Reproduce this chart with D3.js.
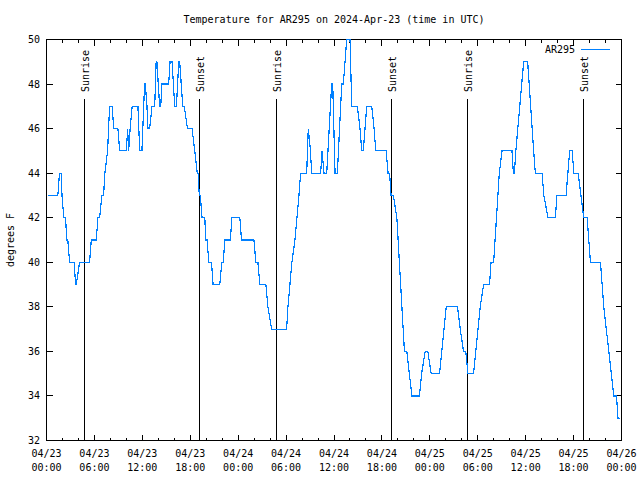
<!DOCTYPE html>
<html><head><meta charset="utf-8">
<script src="https://cdn.jsdelivr.net/npm/d3@7"></script>
<style>
body{margin:0;background:#fff}
svg{display:block}
text{font-family:"DejaVu Sans Mono","Liberation Mono",monospace;font-size:10px;fill:#000}
</style>
</head><body>
<svg id="chart" width="640" height="480"></svg>
<script>
// hours since 2024-04-23 00:00 UTC
const hours = [0.15,1.42,1.63,1.84,1.94,2.17,2.38,2.55,2.67,2.89,3.47,3.64,3.73,4.14,5.39,5.61,6.23,6.44,6.65,6.94,7.15,7.31,7.65,7.90,8.24,8.40,8.94,9.16,10.00,10.16,10.29,10.47,10.73,10.91,11.45,11.67,11.95,12.17,12.29,12.38,12.58,12.71,12.92,13.21,13.55,13.73,13.82,14.17,14.30,14.46,15.30,15.47,15.72,16.06,16.27,16.56,16.68,17.06,17.25,17.65,18.23,18.56,18.88,18.98,19.13,19.26,19.48,19.82,19.94,20.11,20.32,20.66,20.86,21.70,21.95,22.14,22.33,23.02,23.21,24.21,24.42,25.97,26.22,26.47,26.72,27.47,27.72,28.19,30.07,30.23,30.48,30.73,31.11,31.36,31.61,31.82,32.58,32.78,33.05,33.20,34.33,34.50,34.75,35.09,35.71,35.84,36.13,36.42,36.97,37.17,37.59,38.01,38.22,38.92,39.26,39.47,39.67,40.10,40.73,41.02,41.23,42.52,42.77,42.96,43.15,43.44,43.87,44.82,45.12,45.75,46.70,46.97,47.42,47.75,48.17,49.21,50.05,51.47,51.81,52.22,52.50,52.77,53.47,54.31,54.73,55.48,55.66,55.99,56.70,57.04,58.29,58.46,58.58,58.77,59.75,60.25,61.00,61.21,62.05,62.28,62.80,63.72,63.91,65.06,65.51,65.82,66.04,66.57,67.27,67.70,68.11,69.37,69.78,71.04,71.38,71.56,71.79];
const temps = [43,43,44,44,43,42,42,41,41,40,40,39,39,40,40,41,41,42,42,43,43,44,45,47,47,46,46,45,45,46,45,46,47,47,47,45,45,47,48,48,47,46,46,47,47,49,49,47,47,48,48,49,49,47,47,49,49,47,47,46,46,45,44,44,43,43,42,42,41,41,40,40,39,39,40,40,41,41,42,42,41,41,40,40,39,39,38,37,37,38,39,40,41,42,43,44,44,46,45,44,44,45,44,44,48,48,44,44,48,48,50,50,47,47,46,45,45,47,47,46,45,45,44,44,43,43,42,36,36,34,34,35,36,36,35,35,38,38,37,36,36,35,35,38,39,39,40,40,44,45,45,44,44,45,49,49,45,44,44,43,42,42,43,43,45,45,44,44,42,42,40,40,38,34,34,33,33];
const sunrise = ["2024-04-23T04:48Z","2024-04-24T04:46Z","2024-04-25T04:46Z"];
const sunset = ["2024-04-23T19:06Z","2024-04-24T19:11Z","2024-04-25T19:16Z"];
const yTickValues = [32,34,36,38,40,42,44,46,48,50];
const seriesName = "AR295";
const titleText = "Temperature for AR295 on 2024-Apr-23 (time in UTC)";
const yLabel = "degrees F";

const t0 = Date.UTC(2024,3,23,0,0);
const data = hours.map((h,i)=>({t:new Date(t0+h*3600000), v:temps[i]}));

const L=46.5, R=621.5, T=39.5, B=440.5;
const svg = d3.select("#chart");
const x = d3.scaleUtc().domain([new Date(t0), new Date(t0+72*3600000)]).range([L,R]);
const y = d3.scaleLinear().domain([32,50]).range([B,T]);

const g = svg.append("g");
// ticks
const allTicks = d3.utcHour.every(2).range(x.domain()[0], new Date(t0+72*3600000+1));
const isMajor = d => d.getUTCHours()%6===0;
const tk = g.append("g").attr("stroke","#000").attr("stroke-width",1).attr("shape-rendering","crispEdges");
allTicks.forEach(d=>{
  const xx = Math.round(x(d)-0.5)+0.5, len = isMajor(d)?6:3;
  tk.append("line").attr("x1",xx).attr("x2",xx).attr("y1",B).attr("y2",B-len);
  tk.append("line").attr("x1",xx).attr("x2",xx).attr("y1",T).attr("y2",T+len);
});
yTickValues.forEach(v=>{
  const yy = Math.round(y(v)-0.5)+0.5;
  tk.append("line").attr("x1",L).attr("x2",L+6).attr("y1",yy).attr("y2",yy);
  tk.append("line").attr("x1",R).attr("x2",R-6).attr("y1",yy).attr("y2",yy);
});
// y labels
yTickValues.forEach(v=>{
  g.append("text").attr("x",40).attr("y",y(v)).attr("text-anchor","end").attr("dominant-baseline","central").text(v);
});
// x labels
allTicks.filter(isMajor).forEach(d=>{
  const t = g.append("text").attr("text-anchor","middle").attr("x",x(d));
  t.append("tspan").attr("x",x(d)).attr("y",457).text(d3.utcFormat("%m/%d")(d));
  t.append("tspan").attr("x",x(d)).attr("y",471).text(d3.utcFormat("%H:%M")(d));
});
// sunrise / sunset markers
const marks = sunrise.map(s=>({t:new Date(s),label:"Sunrise"})).concat(sunset.map(s=>({t:new Date(s),label:"Sunset"})));
marks.forEach(m=>{
  const xx = Math.round(x(m.t)-0.5)+0.5;
  g.append("line").attr("x1",xx).attr("x2",xx).attr("y1",B).attr("y2",99)
    .attr("stroke","#000").attr("stroke-width",1).attr("shape-rendering","crispEdges");
  g.append("text").attr("transform",`translate(${xx+4},92) rotate(-90)`).attr("text-anchor","start").text(m.label);
});
// frame
g.append("rect").attr("x",L).attr("y",T).attr("width",R-L).attr("height",B-T)
  .attr("fill","none").attr("stroke","#000").attr("stroke-width",1).attr("shape-rendering","crispEdges");
// data line
const line = d3.line().x(d=>x(d.t)).y(d=>y(d.v));
g.append("path").datum(data).attr("d",line).attr("fill","none").attr("stroke","#0080ff")
  .attr("stroke-width",1.2).attr("shape-rendering","crispEdges");
// legend
g.append("text").attr("x",575).attr("y",53).attr("text-anchor","end").text(seriesName);
g.append("line").attr("x1",581).attr("x2",610).attr("y1",49.5).attr("y2",49.5).attr("stroke","#0080ff")
  .attr("stroke-width",1).attr("shape-rendering","crispEdges");
// title
g.append("text").attr("x",(L+R)/2).attr("y",23).attr("text-anchor","middle").text(titleText);
// y label
g.append("text").attr("transform","translate(14,240) rotate(-90)").attr("text-anchor","middle").text(yLabel);
</script>
</body></html>
